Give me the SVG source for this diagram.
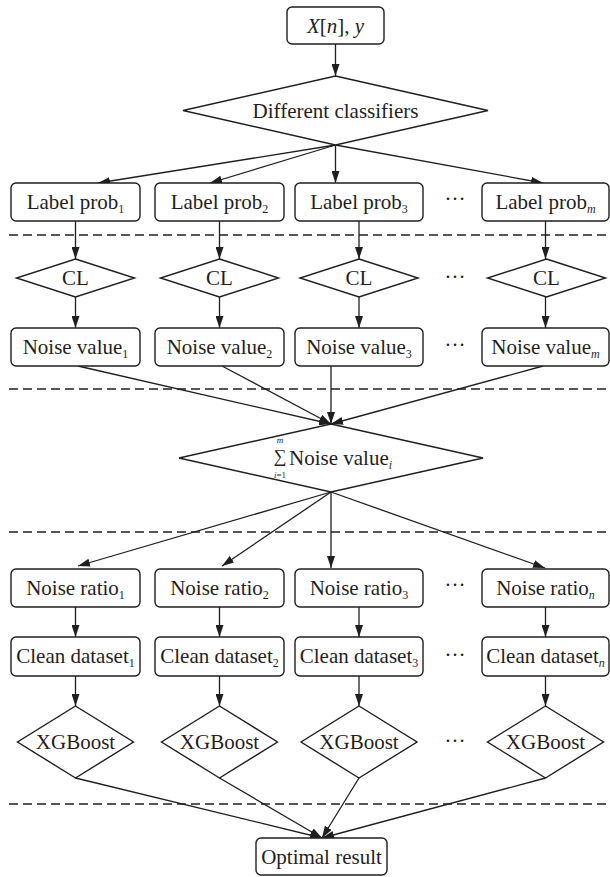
<svg xmlns="http://www.w3.org/2000/svg" width="610" height="877" viewBox="0 0 610 877">
<defs>
<marker id="ah" markerWidth="12" markerHeight="8" refX="12" refY="4" orient="auto" markerUnits="userSpaceOnUse"><path d="M0,0 L12,4 L0,8 z" fill="#1f1f1f"/></marker>
<style>
.b{fill:#fff;stroke:#1f1f1f;stroke-width:1.4}
.t{font-family:"Liberation Serif","Times New Roman",serif;font-size:21px;fill:#1f1f1f;text-anchor:middle}
.s{font-size:12px}
.i{font-style:italic}
.c{stroke:#1f1f1f;stroke-width:1.3;fill:none;marker-end:url(#ah)}
.d{stroke:#1f1f1f;stroke-width:1.3;stroke-dasharray:9 5;fill:none}
.dots{font-family:"Liberation Serif",serif;font-size:21px;fill:#1f1f1f;text-anchor:middle}
</style>
</defs>
<rect width="610" height="877" fill="#fff"/>

<g id="separators">
<line class="d" x1="9" y1="235" x2="610" y2="235"/>
<line class="d" x1="9" y1="389" x2="610" y2="389"/>
<line class="d" x1="9" y1="532" x2="610" y2="532"/>
<line class="d" x1="9" y1="804" x2="610" y2="804"/>
</g>

<g id="connectors">
<line class="c" x1="335.5" y1="44" x2="335.5" y2="76"/>
<line class="c" x1="335.5" y1="145" x2="98" y2="183"/>
<line class="c" x1="335.5" y1="145" x2="210" y2="183"/>
<line class="c" x1="335.5" y1="145" x2="335.5" y2="183"/>
<line class="c" x1="335.5" y1="145" x2="543" y2="183"/>
<line class="c" x1="75.5" y1="221" x2="75.5" y2="259"/>
<line class="c" x1="219.5" y1="221" x2="219.5" y2="259"/>
<line class="c" x1="359" y1="221" x2="359" y2="259"/>
<line class="c" x1="545.5" y1="221" x2="545.5" y2="259"/>
<line class="c" x1="75.5" y1="297" x2="75.5" y2="328"/>
<line class="c" x1="219.5" y1="297" x2="219.5" y2="328"/>
<line class="c" x1="359" y1="297" x2="359" y2="328"/>
<line class="c" x1="545.5" y1="297" x2="545.5" y2="328"/>
<line class="c" x1="78" y1="366" x2="331" y2="424"/>
<line class="c" x1="222" y1="366" x2="331" y2="424"/>
<line class="c" x1="331" y1="366" x2="331" y2="424"/>
<line class="c" x1="543" y1="366" x2="331" y2="424"/>
<line class="c" x1="331" y1="492" x2="78" y2="566"/>
<line class="c" x1="331" y1="492" x2="222" y2="566"/>
<line class="c" x1="331" y1="492" x2="331" y2="568"/>
<line class="c" x1="331" y1="492" x2="545" y2="568"/>
<line class="c" x1="75.5" y1="607" x2="75.5" y2="637"/>
<line class="c" x1="219.5" y1="607" x2="219.5" y2="637"/>
<line class="c" x1="359" y1="607" x2="359" y2="637"/>
<line class="c" x1="545.5" y1="607" x2="545.5" y2="637"/>
<line class="c" x1="75.5" y1="676" x2="75.5" y2="706"/>
<line class="c" x1="219.5" y1="676" x2="219.5" y2="706"/>
<line class="c" x1="359" y1="676" x2="359" y2="706"/>
<line class="c" x1="545.5" y1="676" x2="545.5" y2="706"/>
<line class="c" x1="75.5" y1="778" x2="322" y2="838"/>
<line class="c" x1="219.5" y1="778" x2="322" y2="838"/>
<line class="c" x1="359" y1="778" x2="322" y2="838"/>
<line class="c" x1="545.5" y1="778" x2="322" y2="838"/>
</g>

<g id="input">
<rect class="b" x="287" y="7" width="97" height="37" rx="5"/>
<text class="t" x="335.5" y="33"><tspan class="i">X</tspan>[<tspan class="i">n</tspan>], <tspan class="i">y</tspan></text>
</g>

<g id="classifiers">
<polygon class="b" points="335.5,76 488,110.5 335.5,145 183,110.5"/>
<text class="t" x="335.5" y="118">Different classifiers</text>
</g>

<g id="label-prob-1"><rect class="b" x="11" y="183" width="129" height="38" rx="5"/><text class="t" x="75.5" y="209">Label prob<tspan class="s" dy="4">1</tspan></text></g>
<g id="label-prob-2"><rect class="b" x="155" y="183" width="129" height="38" rx="5"/><text class="t" x="219.5" y="209">Label prob<tspan class="s" dy="4">2</tspan></text></g>
<g id="label-prob-3"><rect class="b" x="295" y="183" width="128" height="38" rx="5"/><text class="t" x="359" y="209">Label prob<tspan class="s" dy="4">3</tspan></text></g>
<g id="label-prob-m"><rect class="b" x="482" y="183" width="127" height="38" rx="5"/><text class="t" x="545.5" y="209">Label prob<tspan class="s i" dy="4">m</tspan></text></g>

<g id="cl-1"><polygon class="b" points="75.5,259 134.5,278 75.5,297 16.5,278"/><text class="t" x="75.5" y="285">CL</text></g>
<g id="cl-2"><polygon class="b" points="219.5,259 278.5,278 219.5,297 160.5,278"/><text class="t" x="219.5" y="285">CL</text></g>
<g id="cl-3"><polygon class="b" points="359,259 418,278 359,297 300,278"/><text class="t" x="359" y="285">CL</text></g>
<g id="cl-m"><polygon class="b" points="546.5,259 605.5,278 546.5,297 487.5,278"/><text class="t" x="546.5" y="285">CL</text></g>

<g id="noise-value-1"><rect class="b" x="11" y="328" width="129" height="38" rx="5"/><text class="t" x="75.5" y="354">Noise value<tspan class="s" dy="4">1</tspan></text></g>
<g id="noise-value-2"><rect class="b" x="155" y="328" width="129" height="38" rx="5"/><text class="t" x="219.5" y="354">Noise value<tspan class="s" dy="4">2</tspan></text></g>
<g id="noise-value-3"><rect class="b" x="295" y="328" width="128" height="38" rx="5"/><text class="t" x="359" y="354">Noise value<tspan class="s" dy="4">3</tspan></text></g>
<g id="noise-value-m"><rect class="b" x="482" y="328" width="127" height="38" rx="5"/><text class="t" x="545.5" y="354">Noise value<tspan class="s i" dy="4">m</tspan></text></g>

<g id="sum">
<polygon class="b" points="331,424 483,458 331,492 179,458"/>
<text class="t" x="280" y="462" style="font-size:18px">∑</text>
<text class="t i" x="280" y="443" style="font-size:9px">m</text>
<text class="t" x="280" y="478" style="font-size:9px"><tspan class="i">i</tspan>=1</text>
<text class="t" x="289" y="465" style="text-anchor:start">Noise value<tspan class="s i" dy="4">i</tspan></text>
</g>

<g id="noise-ratio-1"><rect class="b" x="11" y="569" width="129" height="38" rx="5"/><text class="t" x="75.5" y="595">Noise ratio<tspan class="s" dy="4">1</tspan></text></g>
<g id="noise-ratio-2"><rect class="b" x="155" y="569" width="129" height="38" rx="5"/><text class="t" x="219.5" y="595">Noise ratio<tspan class="s" dy="4">2</tspan></text></g>
<g id="noise-ratio-3"><rect class="b" x="295" y="569" width="128" height="38" rx="5"/><text class="t" x="359" y="595">Noise ratio<tspan class="s" dy="4">3</tspan></text></g>
<g id="noise-ratio-n"><rect class="b" x="482" y="569" width="127" height="38" rx="5"/><text class="t" x="545.5" y="595">Noise ratio<tspan class="s i" dy="4">n</tspan></text></g>

<g id="clean-1"><rect class="b" x="11" y="637" width="129" height="39" rx="5"/><text class="t" x="75.5" y="663">Clean dataset<tspan class="s" dy="4">1</tspan></text></g>
<g id="clean-2"><rect class="b" x="155" y="637" width="129" height="39" rx="5"/><text class="t" x="219.5" y="663">Clean dataset<tspan class="s" dy="4">2</tspan></text></g>
<g id="clean-3"><rect class="b" x="295" y="637" width="128" height="39" rx="5"/><text class="t" x="359" y="663">Clean dataset<tspan class="s" dy="4">3</tspan></text></g>
<g id="clean-n"><rect class="b" x="482" y="637" width="127" height="39" rx="5"/><text class="t" x="545.5" y="663">Clean dataset<tspan class="s i" dy="4">n</tspan></text></g>

<g id="xgb-1"><polygon class="b" points="75.5,706 133.5,742 75.5,778 17.5,742"/><text class="t" x="75.5" y="749">XGBoost</text></g>
<g id="xgb-2"><polygon class="b" points="219.5,706 277.5,742 219.5,778 161.5,742"/><text class="t" x="219.5" y="749">XGBoost</text></g>
<g id="xgb-3"><polygon class="b" points="359,706 417,742 359,778 301,742"/><text class="t" x="359" y="749">XGBoost</text></g>
<g id="xgb-n"><polygon class="b" points="545.5,706 603.5,742 545.5,778 487.5,742"/><text class="t" x="545.5" y="749">XGBoost</text></g>

<g id="optimal-result"><rect class="b" x="256" y="838" width="131" height="37" rx="5"/><text class="t" x="321.5" y="864">Optimal result</text></g>

<g id="ellipses">
<text class="dots" x="455" y="200">…</text>
<text class="dots" x="455" y="278">…</text>
<text class="dots" x="455" y="346">…</text>
<text class="dots" x="455" y="586">…</text>
<text class="dots" x="455" y="656">…</text>
<text class="dots" x="455" y="742">…</text>
</g>
</svg>
